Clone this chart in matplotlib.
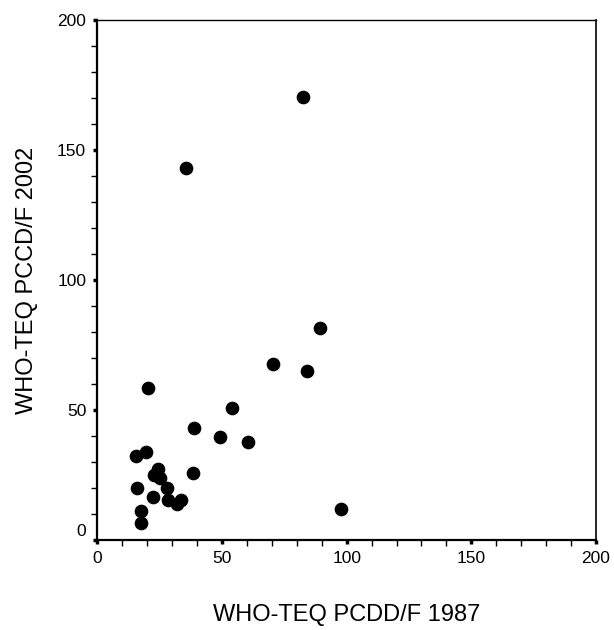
import matplotlib
matplotlib.use('Agg')
import matplotlib.pyplot as plt
import matplotlib.transforms as mtransforms
from matplotlib.ticker import MultipleLocator

plt.rcParams['font.family'] = ['Liberation Sans', 'DejaVu Sans']

# WHO-TEQ values
teq_1987 = [20.2, 54.0, 38.9, 49.3, 60.4, 15.5, 19.7, 24.5, 22.6, 25.1,
            38.2, 16.0, 27.8, 22.5, 28.5, 33.6, 31.8, 17.4, 17.4, 97.6,
            89.3, 70.6, 84.0, 35.6, 82.6]
teq_2002 = [58.3, 50.9, 43.1, 39.7, 37.8, 32.4, 33.7, 27.3, 25.1, 23.7,
            25.8, 19.9, 19.9, 16.5, 15.3, 15.4, 13.8, 11.3, 6.7, 11.9,
            81.4, 67.6, 65.0, 143.2, 170.3]

fig = plt.figure(figsize=(6.14, 6.3), dpi=100)
ax = fig.add_axes([0.1585, 0.1429, 0.8122, 0.8254])

ax.scatter(teq_1987, teq_2002, s=78, color='black', zorder=3, clip_on=False)

ax.set_xlim(0, 200)
ax.set_ylim(0, 200)
ax.xaxis.set_major_locator(MultipleLocator(50))
ax.yaxis.set_major_locator(MultipleLocator(50))
ax.xaxis.set_minor_locator(MultipleLocator(10))
ax.yaxis.set_minor_locator(MultipleLocator(10))

ax.tick_params(which='major', direction='out', length=3, width=2.5,
               labelsize=12.5, pad=5)
ax.tick_params(which='minor', direction='out', length=4, width=1)

ax.spines['left'].set_linewidth(1.6)
ax.spines['bottom'].set_linewidth(1.6)
ax.spines['top'].set_linewidth(1.0)
ax.spines['right'].set_linewidth(1.2)

ax.set_xlabel('WHO-TEQ PCDD/F 1987', fontsize=17)
ax.set_ylabel('WHO-TEQ PCCD/F 2002', fontsize=17)
ax.xaxis.set_label_coords(0.5, -0.124)
ax.yaxis.set_label_coords(-0.119, 0.5)

# the y "0" label sits a bit above the corner in the original
fig.canvas.draw()
for tick in ax.yaxis.get_major_ticks():
    if tick.get_loc() == 0:
        lab = tick.label1
        lab.set_transform(lab.get_transform() +
                          mtransforms.ScaledTranslation(0, 7 / 72, fig.dpi_scale_trans))

fig.savefig('out.png', dpi=100)
